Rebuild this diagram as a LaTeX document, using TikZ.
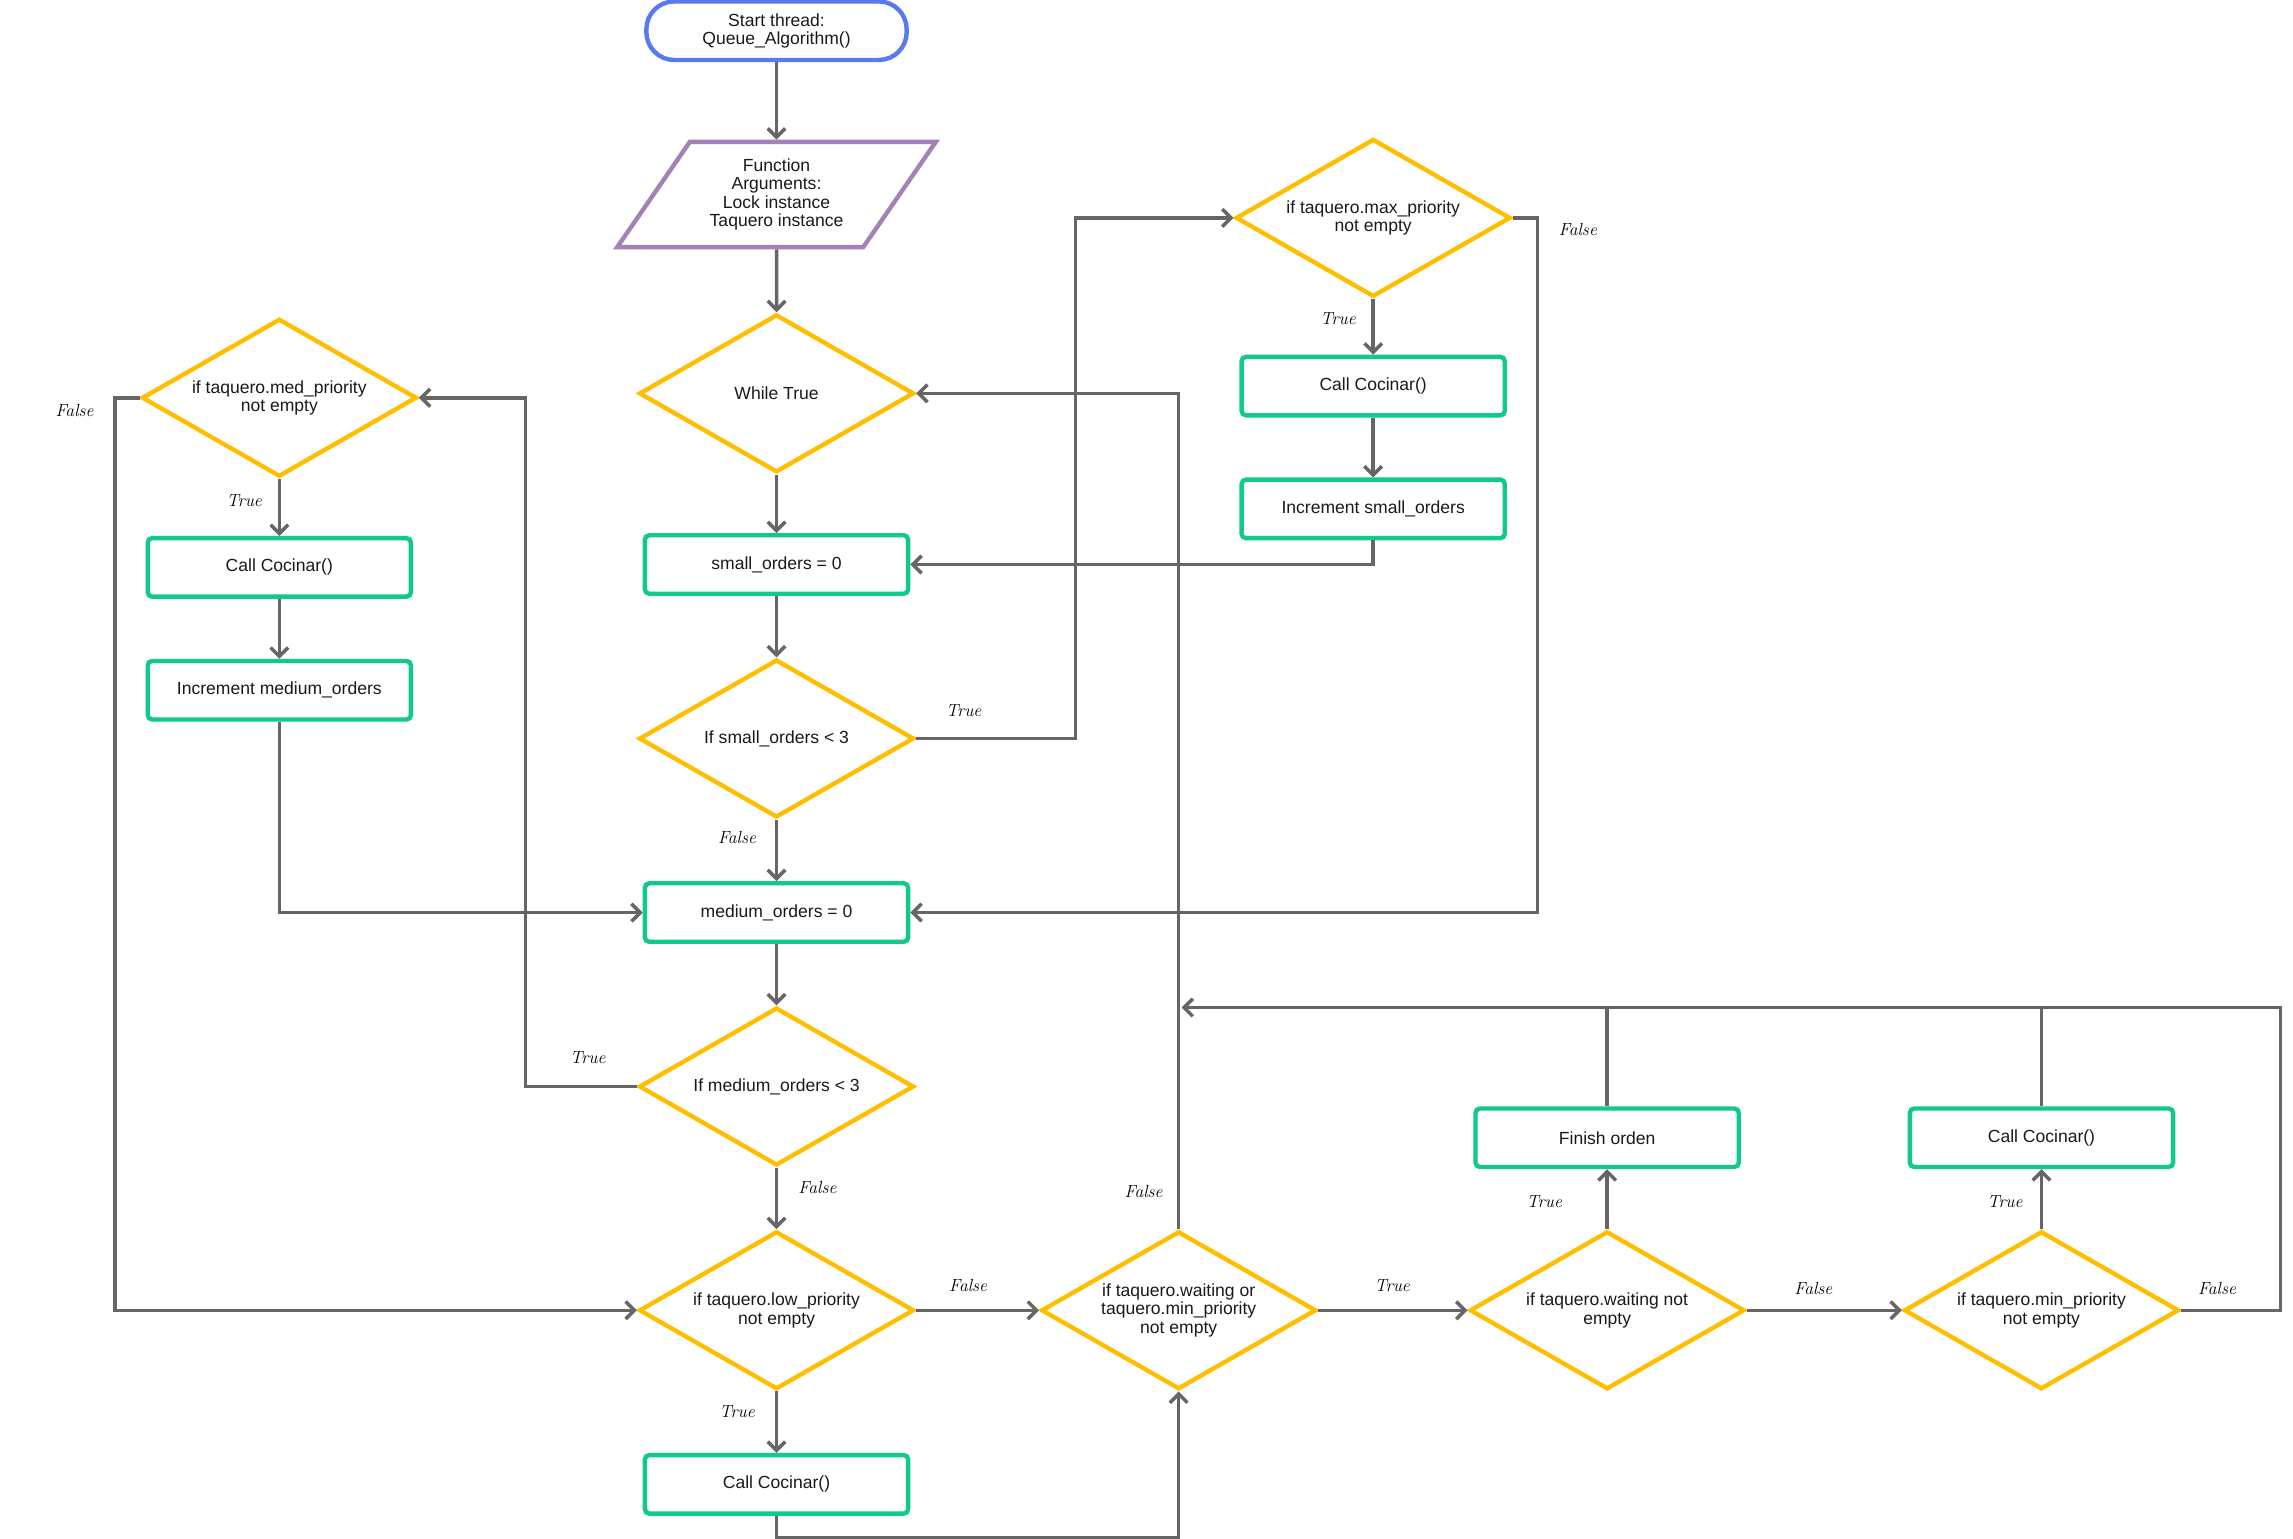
\documentclass[tikz,border=0pt]{standalone}
\usepackage{fontspec}
\usepackage{tikz}
\usetikzlibrary{shapes.geometric}
\usetikzlibrary{arrows.meta}
\usepackage{xcolor}
\newfontfamily\boxfont{Liberation Sans}
\definecolor{startblue}{HTML}{5A78F0}
\definecolor{argpurple}{HTML}{A680B8}
\definecolor{ifyellow}{HTML}{FFBE00}
\definecolor{stepgreen}{HTML}{0FCA8A}
\definecolor{linegray}{HTML}{666666}

\begin{document}
\begin{tikzpicture}[x=1pt, y=-1pt,
    txt/.style={font=\boxfont\fontsize{12}{12.6}\selectfont, align=center, text=black!90, inner sep=0},
    terminal/.style={txt, draw=startblue, line width=3pt, rounded corners=19pt, minimum width=178, minimum height=40},
    inout/.style={txt, draw=argpurple, line width=3pt, trapezium, trapezium left angle=52, trapezium right angle=128, trapezium stretches, minimum width=218, minimum height=72},
    decision/.style={txt, draw=ifyellow, line width=3pt, diamond, aspect=1.74, minimum width=188, minimum height=108},
    process/.style={txt, draw=stepgreen, line width=3pt, rounded corners=3pt, minimum width=180, minimum height=40},
    conn/.style={draw=linegray, line width=2.4pt, -{Straight Barb[length=6pt,width=12pt]}},
    plain/.style={draw=linegray, line width=2.4pt},
    lbl/.style={font=\fontsize{12}{14}\selectfont\itshape, inner sep=0}]
\useasboundingbox (0,0) rectangle (1568,1052);

\node[terminal] (start) at (531,21) {Start thread:\\Queue\_Algorithm()};
\node[inout] (args) at (531,133) {Function\\Arguments:\\Lock instance\\Taquero instance};
\node[decision] (whiletrue) at (531,269) {While True};
\node[process] (smallzero) at (531,386) {small\_orders = 0};
\node[decision] (smallif) at (531,505) {If small\_orders < 3};
\node[process] (medzero) at (531,624) {medium\_orders = 0};
\node[decision] (medif) at (531,743) {If medium\_orders < 3};
\node[decision] (lowif) at (531,896) {if taquero.low\_priority\\not empty};
\node[process] (lowcook) at (531,1015) {Call Cocinar()};

\node[decision] (maxif) at (939,149) {if taquero.max\_priority\\not empty};
\node[process] (maxcook) at (939,264) {Call Cocinar()};
\node[process] (incsmall) at (939,348) {Increment small\_orders};

\node[decision] (medpri) at (191,272) {if taquero.med\_priority\\not empty};
\node[process] (medcook) at (191,388) {Call Cocinar()};
\node[process] (incmed) at (191,472) {Increment medium\_orders};

\node[decision] (waitorif) at (806,896) {if taquero.waiting or\\taquero.min\_priority\\not empty};
\node[decision] (waitif) at (1099,896) {if taquero.waiting not\\empty};
\node[decision] (minif) at (1396,896) {if taquero.min\_priority\\not empty};
\node[process] (finish) at (1099,778) {Finish orden};
\node[process] (mincook) at (1396,778) {Call Cocinar()};
\coordinate (merge) at (806,689);

\draw[conn] (start) -- (args);
\draw[conn] (args) -- (whiletrue);
\draw[conn] (whiletrue) -- (smallzero);
\draw[conn] (smallzero) -- (smallif);
\draw[conn] (smallif) -- (medzero);
\draw[conn] (smallif.east) -- ++(109,0) |- (maxif.west);
\draw[conn] (maxif) -- (maxcook);
\draw[conn] (maxcook) -- (incsmall);
\draw[conn] (incsmall.south) |- (smallzero.east);
\draw[conn] (maxif.east) -- ++(17,0) |- (medzero.east);
\draw[conn] (medzero) -- (medif);
\draw[conn] (medif) -- (lowif);
\draw[conn] (medif.west) -- ++(-76,0) |- (medpri.east);
\draw[conn] (medpri) -- (medcook);
\draw[conn] (medcook) -- (incmed);
\draw[conn] (incmed.south) |- (medzero.west);
\draw[conn] (medpri.west) -- ++(-17,0) |- (lowif.west);
\draw[conn] (lowif) -- (lowcook);
\draw[conn] (lowif) -- (waitorif);
\draw[conn] (lowcook.south) -- ++(0,15) -| (waitorif.south);
\draw[conn] (waitorif.north) |- (whiletrue.east);
\draw[conn] (waitorif) -- (waitif);
\draw[conn] (waitif) -- (finish);
\draw[conn] (waitif) -- (minif);
\draw[conn] (minif) -- (mincook);
\draw[conn] (minif.east) -- ++(68,0) |- ([xshift=2pt]merge);
\draw[plain] (finish.north) -- (finish.north |- merge);
\draw[plain] (mincook.north) -- (mincook.north |- merge);

\node[lbl] (maxfalse) at (1079,157) {False};
\node[lbl] (maxtrue) at (915,218) {True};
\node[lbl] (medprifalse) at (51,281) {False};
\node[lbl] (medpritrue) at (167,342) {True};
\node[lbl] (smalltrue) at (659,486) {True};
\node[lbl] (smallfalse) at (504,573) {False};
\node[lbl] (medtrue) at (402,723) {True};
\node[lbl] (medfalse) at (559,812) {False};
\node[lbl] (lowfalse) at (662,879) {False};
\node[lbl] (lowtrue) at (504,965) {True};
\node[lbl] (waitorfalse) at (782,815) {False};
\node[lbl] (waitortrue) at (952,879) {True};
\node[lbl] (waittrue) at (1056,822) {True};
\node[lbl] (waitfalse) at (1240,881) {False};
\node[lbl] (mintrue) at (1371,822) {True};
\node[lbl] (minfalse) at (1516,881) {False};
\end{tikzpicture}
\end{document}
